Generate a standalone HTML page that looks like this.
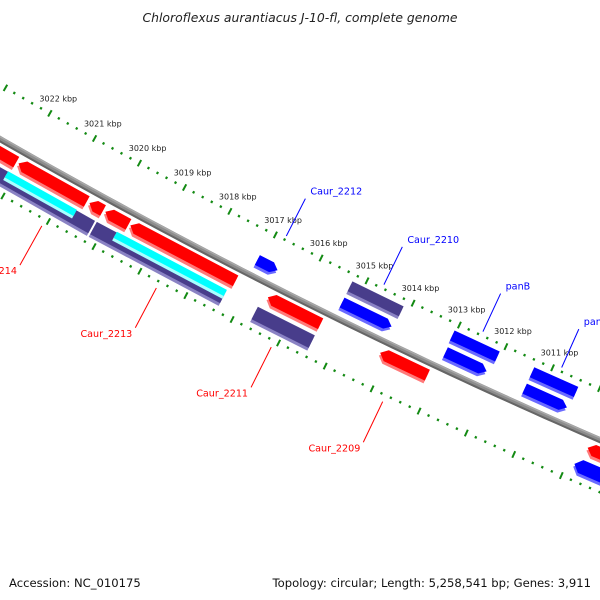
<!DOCTYPE html>
<html>
<head>
<meta charset="utf-8">
<style>
  html,body{margin:0;padding:0;background:#fff;}
  body{width:600px;height:600px;overflow:hidden;}
  svg{display:block;}
  text{font-family:"DejaVu Sans","Liberation Sans",sans-serif;}
</style>
</head>
<body>
<svg id="chart" width="600" height="600" viewBox="0 0 600 600" xmlns="http://www.w3.org/2000/svg">
  <rect x="0" y="0" width="600" height="600" fill="#ffffff"/>
  <text x="300" y="22" text-anchor="middle" font-size="12.4" font-style="italic" fill="#222">Chloroflexus aurantiacus J-10-fl, complete genome</text>
  <g id="ticks"></g>
  <g id="backbone"></g>
  <g id="genes"></g>
  <g id="labels"></g>
  <text x="9" y="587" font-size="11.6" fill="#111">Accession: NC_010175</text>
  <text x="591" y="587" text-anchor="end" font-size="11.6" fill="#111">Topology: circular; Length: 5,258,541 bp; Genes: 3,911</text>
</svg>
<script>
// ---- data ----
const geneStart = [3023.6, 3022.05, 3020.48, 3020.13, 3019.58, 3016.58, 3014.16, 3009.75,
                   3023.6, 3020.18, 3016.67, 3009.86,
                   3022.15, 3019.75,
                   3017.09, 3015.25, 3013.02, 3011.33,
                   3015.25, 3013.04, 3011.33];
const geneEnd   = [3022.10, 3020.54, 3020.18, 3019.62, 3017.28, 3015.44, 3013.15, 3008.5,
                   3020.22, 3017.35, 3015.44, 3008.5,
                   3020.63, 3017.35,
                   3016.65, 3014.18, 3012.14, 3010.43,
                   3014.14, 3012.07, 3010.39];
const geneTrack = ['r','r','r','r','r','r','r','r',
                   'p','p','p','p',
                   'c','c',
                   'i1','i1','i1','i1',
                   'i2','i2','i2'];
const geneColor = ['red','red','red','red','red','red','red','red',
                   'purple','purple','purple','blue',
                   'cyan','cyan',
                   'blue','blue','blue','blue',
                   'purple','blue','blue'];
const geneDir   = ['L','L','L','L','L','L','L','L',
                   'N','N','N','L',
                   'N','N',
                   'R','R','R','R',
                   'N','N','N'];
const tickLabels = [3022, 3021, 3020, 3019, 3018, 3017, 3016, 3015, 3014, 3013, 3012, 3011];
const labelNames = ['Caur_2212','Caur_2210','panB','panC','Caur_2214','Caur_2213','Caur_2211','Caur_2209'];
const labelKbp   = [3016.8, 3014.67, 3012.53, 3010.84, 3021.07, 3018.57, 3016.09, 3013.71];
const labelSide  = ['in','in','in','in','out','out','out','out'];

// ---- geometry ----
const CX = 2984, CY = -5060, R0 = 5994.5, A0 = 119.56, K = 0.4936;
function P(kbp, d){
  const a = (A0 + (kbp - 3022) * K) * Math.PI / 180, r = R0 + d;
  return [CX + r * Math.cos(a), CY + r * Math.sin(a)];
}
const NS = 'http://www.w3.org/2000/svg';
function mk(tag, parent){ const e = document.createElementNS(NS, tag); parent.appendChild(e); return e; }
const fmt = p => p[0].toFixed(2) + ',' + p[1].toFixed(2);

const trackD0 = {r:6, p:25, c:24, i1:-22, i2:-40};
const trackH  = {r:12, p:14, c:7, i1:11, i2:11};
const colMain  = {red:'#ff0000', blue:'#0000ff', purple:'#483d8b', cyan:'#00ffff'};
const colLight = {red:'#ff7a7a', blue:'#6a6aff', purple:'#8a82c4', cyan:'#a8ffff'};

// ---- ticks ----
const gT = document.getElementById('ticks');
[-47, 48].forEach(function(td){
  for (let i = 0; i <= 80; i++){
    const k = 3008 + i * 0.2;
    const major = (i % 5 === 0);
    const half = major ? 3.6 : 1.2;
    const a = P(k, td - half), b = P(k, td + half);
    const ln = mk('line', gT);
    
    
    ln.setAttribute('x1', a[0]); ln.setAttribute('y1', a[1]);
    ln.setAttribute('x2', b[0]); ln.setAttribute('y2', b[1]);
    ln.setAttribute('stroke', '#138a13');
    ln.setAttribute('stroke-width', major ? 2 : 2.2);
  }
});
tickLabels.forEach(function(k){
  const p = P(k, -64);
  const t = mk('text', gT);
  
  
  t.setAttribute('x', p[0]); t.setAttribute('y', p[1] + 3);
  t.setAttribute('text-anchor', 'middle');
  t.setAttribute('font-size', '8');
  t.setAttribute('fill', '#222');
  t.textContent = k + ' kbp';
});

// ---- backbone ----
const gB = document.getElementById('backbone');
function arcPath(d){
  let s = '';
  for (let k = 3024; k >= 3008; k -= 0.25){ s += (s ? 'L' : 'M') + fmt(P(k, d)); }
  return s;
}
const bb1 = mk('path', gB);


bb1.setAttribute('d', arcPath(0)); bb1.setAttribute('fill', 'none');
bb1.setAttribute('stroke', '#8c8c8c'); bb1.setAttribute('stroke-width', '6');
const bb2 = mk('path', gB);


bb2.setAttribute('d', arcPath(2)); bb2.setAttribute('fill', 'none');
bb2.setAttribute('stroke', '#666666'); bb2.setAttribute('stroke-width', '2');
const bb3 = mk('path', gB);


bb3.setAttribute('d', arcPath(-2)); bb3.setAttribute('fill', 'none');
bb3.setAttribute('stroke', '#a8a8a8'); bb3.setAttribute('stroke-width', '1.5');

// ---- genes ----
const gG = document.getElementById('genes');
function genePts(s, e, d0, d1, dir){
  const ah = Math.min(0.13, (s - e) * 0.6), mid = (d0 + d1) / 2;
  if (dir === 'L') return [P(s, mid), P(s - ah, d0), P(e, d0), P(e, d1), P(s - ah, d1)];
  if (dir === 'R') return [P(s, d0), P(e + ah, d0), P(e, mid), P(e + ah, d1), P(s, d1)];
  return [P(s, d0), P(e, d0), P(e, d1), P(s, d1)];
}
for (let i = 0; i < geneStart.length; i++){
  const d0 = trackD0[geneTrack[i]], h = trackH[geneTrack[i]];
  const g = mk('g', gG);
  
  
  const sh = mk('polygon', g);
  
  
  sh.setAttribute('points', genePts(geneStart[i], geneEnd[i], d0 + 3, d0 + h + 3, geneDir[i]).map(fmt).join(' '));
  sh.setAttribute('fill', colLight[geneColor[i]]);
  const body = mk('polygon', g);
  
  
  body.setAttribute('points', genePts(geneStart[i], geneEnd[i], d0, d0 + h, geneDir[i]).map(fmt).join(' '));
  body.setAttribute('fill', colMain[geneColor[i]]);
}

// ---- labels ----
const gL = document.getElementById('labels');
for (let i = 0; i < labelNames.length; i++){
  const inner = labelSide[i] === 'in';
  const a = P(labelKbp[i], inner ? -51 : 55), b = P(labelKbp[i], inner ? -93 : 100);
  const col = inner ? '#0000ff' : '#ff0000';
  const ln = mk('line', gL);
  
  
  ln.setAttribute('x1', a[0]); ln.setAttribute('y1', a[1]);
  ln.setAttribute('x2', b[0]); ln.setAttribute('y2', b[1]);
  ln.setAttribute('stroke', col); ln.setAttribute('stroke-width', '1');
  const t = mk('text', gL);
  
  
  t.setAttribute('font-size', '9.6');
  t.setAttribute('fill', col);
  if (inner){
    t.setAttribute('x', b[0] + 5); t.setAttribute('y', b[1] - 4);
  } else {
    t.setAttribute('x', b[0] - 3); t.setAttribute('y', b[1] + 9);
    t.setAttribute('text-anchor', 'end');
  }
  t.textContent = labelNames[i];
}
</script>
</body>
</html>
